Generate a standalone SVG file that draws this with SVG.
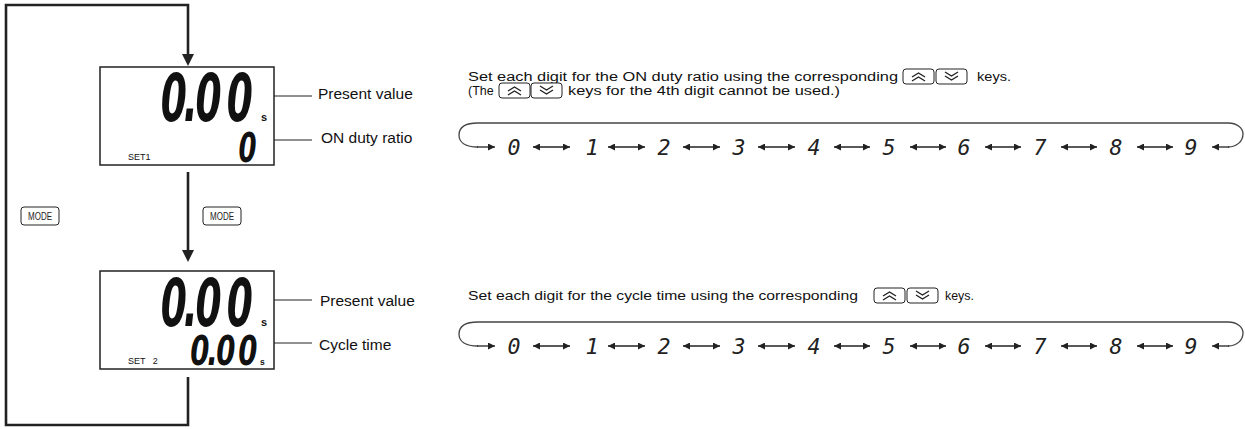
<svg xmlns="http://www.w3.org/2000/svg" width="1245" height="429" viewBox="0 0 1245 429">
<style>
.lbl{font-family:"Liberation Sans",Arial,sans-serif;font-size:15.5px;fill:#111}
.txt{font-family:"Liberation Sans",Arial,sans-serif;font-size:12.5px;fill:#111}
.set{font-family:"Liberation Sans",Arial,sans-serif;font-size:9px;fill:#111}
.lcd{font-family:"DejaVu Sans",sans-serif;font-weight:bold;font-style:oblique;fill:#111}
.seg{font-family:"DejaVu Sans Mono",monospace;font-style:oblique;font-size:22px;fill:#222;text-anchor:middle}
.unit{font-family:"Liberation Sans",Arial,sans-serif;font-weight:bold;fill:#111}
.box{fill:#fff;stroke:#222;stroke-width:1.5}
.flow{fill:none;stroke:#222;stroke-width:2.6}
.ptr{fill:none;stroke:#222;stroke-width:1}
.thin{fill:none;stroke:#444;stroke-width:1.3}
.dbl{fill:none;stroke:#222;stroke-width:1.3;marker-start:url(#arrS);marker-end:url(#arrE)}
.one{fill:none;stroke:#222;stroke-width:1.3;marker-end:url(#arrE)}
.key{fill:#fff;stroke:#222;stroke-width:1}
.chev{fill:none;stroke:#222;stroke-width:1.4}
.mode{font-family:"Liberation Sans",Arial,sans-serif;font-size:10px;fill:#222;text-anchor:middle}
</style>
<defs>
<marker id="arrE" viewBox="0 0 10 10" refX="10" refY="5" markerWidth="8" markerHeight="7" markerUnits="userSpaceOnUse" orient="auto">
<path d="M0,0 L10,5 L0,10 z" fill="#222"/>
</marker>
<marker id="arrS" viewBox="0 0 10 10" refX="0" refY="5" markerWidth="8" markerHeight="7" markerUnits="userSpaceOnUse" orient="auto">
<path d="M10,0 L0,5 L10,10 z" fill="#222"/>
</marker>
<marker id="ptrE" viewBox="0 0 10 10" refX="10" refY="5" markerWidth="6" markerHeight="4" markerUnits="userSpaceOnUse" orient="auto">
<path d="M0,0 L10,5 L0,10 z" fill="#222"/>
</marker>
<g id="keyUp">
<rect class="key" x="0" y="0" width="31" height="15" rx="3"/>
<polyline class="chev" points="9,8 15.5,4 22,8"/>
<polyline class="chev" points="9,12 15.5,8 22,12"/>
</g>
<g id="keyDown">
<rect class="key" x="0" y="0" width="31" height="15" rx="3"/>
<polyline class="chev" points="9,3 15.5,7 22,3"/>
<polyline class="chev" points="9,7 15.5,11 22,7"/>
</g>
</defs>

<g id="connectors">
<polyline class="flow" points="188,377 188,425 6,425 6,5 188,5 188,56"/>
<polygon points="182,54 194,54 188,66" fill="#222"/>
<line class="flow" x1="188" y1="172" x2="188" y2="252"/>
<polygon points="182,250 194,250 188,262" fill="#222"/>
<line class="ptr" x1="312" y1="96" x2="264" y2="96" marker-end="url(#ptrE)"/>
<line class="ptr" x1="312" y1="140" x2="260" y2="140" marker-end="url(#ptrE)"/>
<line class="ptr" x1="312" y1="300" x2="264" y2="300" marker-end="url(#ptrE)"/>
<line class="ptr" x1="312" y1="343" x2="260" y2="343" marker-end="url(#ptrE)"/>
</g>

<g id="mode-left">
<rect x="21" y="207" width="38" height="18" rx="3" fill="#fff" stroke="#222" stroke-width="1"/>
<text class="mode" x="40" y="220" textLength="24" lengthAdjust="spacingAndGlyphs">MODE</text>
</g>
<g id="mode-right">
<rect x="203" y="207" width="38" height="18" rx="3" fill="#fff" stroke="#222" stroke-width="1"/>
<text class="mode" x="222" y="220" textLength="24" lengthAdjust="spacingAndGlyphs">MODE</text>
</g>

<g id="display-set1">
<rect class="box" x="100" y="67" width="174" height="98"/>
<text class="lcd" font-size="66" transform="translate(163,121) scale(0.57,1)" x="-4 36 57 112" y="0">0.00</text>
<text class="unit" x="261" y="121" font-size="11">s</text>
<text class="lcd" font-size="40" transform="translate(238.5,162) scale(0.65,1)" x="0" y="0">0</text>
<text class="set" x="128" y="160">SET1</text>
<text class="lbl" x="318" y="99">Present value</text>
<text class="lbl" x="321" y="143">ON duty ratio</text>
</g>

<g id="display-set2">
<rect class="box" x="100" y="271" width="174" height="98"/>
<text class="lcd" font-size="66" transform="translate(163,326) scale(0.57,1)" x="-4 36 57 112" y="0">0.00</text>
<text class="unit" x="261" y="326" font-size="11">s</text>
<text class="lcd" font-size="40" transform="translate(192,365) scale(0.69,1)" x="-2.5 22 35 67" y="0">0.00</text>
<text class="unit" x="260" y="365" font-size="8.5">s</text>
<text class="set" x="128" y="364" word-spacing="5">SET 2</text>
<text class="lbl" x="320" y="306">Present value</text>
<text class="lbl" x="319" y="350">Cycle time</text>
</g>

<g id="onduty-instructions">
<text class="txt" x="468" y="81" textLength="430" lengthAdjust="spacingAndGlyphs">Set each digit for the ON duty ratio using the corresponding</text>
<use href="#keyUp" x="903" y="69"/>
<use href="#keyDown" x="936" y="69"/>
<text class="txt" x="977" y="81" textLength="34" lengthAdjust="spacingAndGlyphs">keys.</text>
<text class="txt" x="468" y="95">(The</text>
<use href="#keyUp" x="499" y="83"/>
<use href="#keyDown" x="531" y="83"/>
<text class="txt" x="568" y="95" textLength="272" lengthAdjust="spacingAndGlyphs">keys for the 4th digit cannot be used.)</text>
</g>

<g id="onduty-cycle">
<path class="thin" d="M1228,123 H478 C463,123 459,129 459,135 C459,142 465,147 478,147"/>
<line class="one" x1="477" y1="147" x2="495" y2="147"/>
<path class="thin" d="M1228,123 C1237,123 1243,128 1243,134 C1243,141 1237,147 1228,147"/>
<line class="one" x1="1229" y1="147" x2="1212" y2="147"/>
<g transform="translate(0,155)">
<text class="seg" x="514" y="0" textLength="13" lengthAdjust="spacingAndGlyphs">0</text>
<text class="seg" x="592" y="0">1</text>
<text class="seg" x="664" y="0" textLength="13" lengthAdjust="spacingAndGlyphs">2</text>
<text class="seg" x="739" y="0" textLength="13" lengthAdjust="spacingAndGlyphs">3</text>
<text class="seg" x="814" y="0" textLength="13" lengthAdjust="spacingAndGlyphs">4</text>
<text class="seg" x="889" y="0" textLength="13" lengthAdjust="spacingAndGlyphs">5</text>
<text class="seg" x="964" y="0" textLength="13" lengthAdjust="spacingAndGlyphs">6</text>
<text class="seg" x="1040" y="0" textLength="13" lengthAdjust="spacingAndGlyphs">7</text>
<text class="seg" x="1116" y="0" textLength="13" lengthAdjust="spacingAndGlyphs">8</text>
<text class="seg" x="1191" y="0" textLength="13" lengthAdjust="spacingAndGlyphs">9</text>
</g>
<line class="dbl" x1="533" y1="147" x2="570" y2="147"/>
<line class="dbl" x1="608" y1="147" x2="645" y2="147"/>
<line class="dbl" x1="683" y1="147" x2="720" y2="147"/>
<line class="dbl" x1="758" y1="147" x2="795" y2="147"/>
<line class="dbl" x1="834" y1="147" x2="870" y2="147"/>
<line class="dbl" x1="910" y1="147" x2="946" y2="147"/>
<line class="dbl" x1="985" y1="147" x2="1021" y2="147"/>
<line class="dbl" x1="1061" y1="147" x2="1097" y2="147"/>
<line class="dbl" x1="1137" y1="147" x2="1173" y2="147"/>
</g>

<g id="cycle-instructions">
<text class="txt" x="468" y="300" textLength="390" lengthAdjust="spacingAndGlyphs">Set each digit for the cycle time using the corresponding</text>
<use href="#keyUp" x="874" y="288"/>
<use href="#keyDown" x="907" y="288"/>
<text class="txt" x="945" y="300" textLength="29" lengthAdjust="spacingAndGlyphs">keys.</text>
</g>

<g id="cycle-cycle">
<path class="thin" d="M1228,322 H478 C463,322 459,328 459,334 C459,341 465,346 478,346"/>
<line class="one" x1="477" y1="346" x2="495" y2="346"/>
<path class="thin" d="M1228,322 C1237,322 1243,327 1243,333 C1243,340 1237,346 1228,346"/>
<line class="one" x1="1229" y1="346" x2="1212" y2="346"/>
<g transform="translate(0,354)">
<text class="seg" x="514" y="0" textLength="13" lengthAdjust="spacingAndGlyphs">0</text>
<text class="seg" x="592" y="0">1</text>
<text class="seg" x="664" y="0" textLength="13" lengthAdjust="spacingAndGlyphs">2</text>
<text class="seg" x="739" y="0" textLength="13" lengthAdjust="spacingAndGlyphs">3</text>
<text class="seg" x="814" y="0" textLength="13" lengthAdjust="spacingAndGlyphs">4</text>
<text class="seg" x="889" y="0" textLength="13" lengthAdjust="spacingAndGlyphs">5</text>
<text class="seg" x="964" y="0" textLength="13" lengthAdjust="spacingAndGlyphs">6</text>
<text class="seg" x="1040" y="0" textLength="13" lengthAdjust="spacingAndGlyphs">7</text>
<text class="seg" x="1116" y="0" textLength="13" lengthAdjust="spacingAndGlyphs">8</text>
<text class="seg" x="1191" y="0" textLength="13" lengthAdjust="spacingAndGlyphs">9</text>
</g>
<line class="dbl" x1="533" y1="346" x2="570" y2="346"/>
<line class="dbl" x1="608" y1="346" x2="645" y2="346"/>
<line class="dbl" x1="683" y1="346" x2="720" y2="346"/>
<line class="dbl" x1="758" y1="346" x2="795" y2="346"/>
<line class="dbl" x1="834" y1="346" x2="870" y2="346"/>
<line class="dbl" x1="910" y1="346" x2="946" y2="346"/>
<line class="dbl" x1="985" y1="346" x2="1021" y2="346"/>
<line class="dbl" x1="1061" y1="346" x2="1097" y2="346"/>
<line class="dbl" x1="1137" y1="346" x2="1173" y2="346"/>
</g>
</svg>
